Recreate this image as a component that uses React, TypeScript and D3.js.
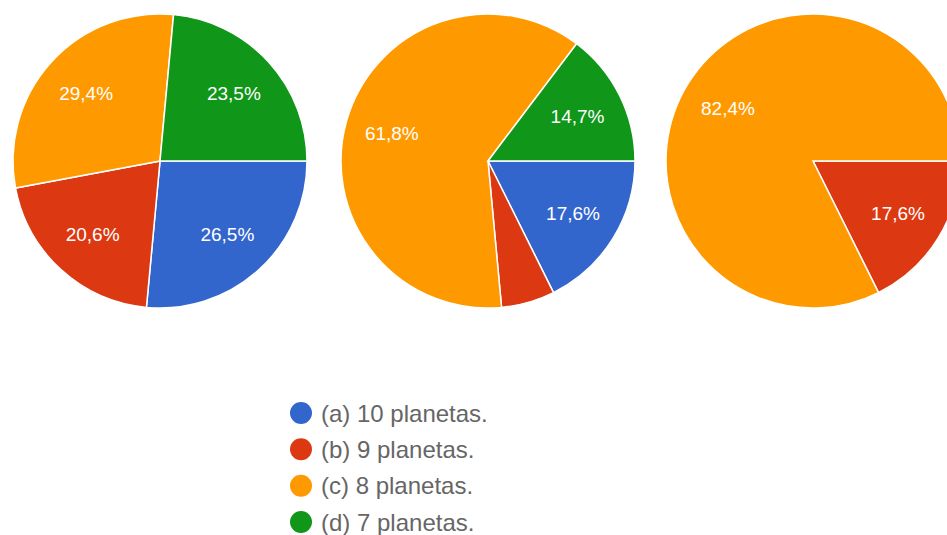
import React from "react";
import * as d3 from "d3";

const categories = ["(a) 10 planetas.", "(b) 9 planetas.", "(c) 8 planetas.", "(d) 7 planetas."];
const colors = ["#3366cc", "#dc3912", "#ff9900", "#109618"];
const pieA = [9, 7, 10, 8];
const pieB = [6, 2, 21, 5];
const pieC = [0, 6, 28, 0];
const pies = [pieA, pieB, pieC];
const pieCentersX = [160, 488, 813];

const W = 947;
const H = 535;
const CY = 161;
const R = 147;
const LABEL_R = 100;

function fmt(p: number) {
  return (p * 100).toFixed(1).replace(".", ",") + "%";
}

export default function App() {
  const pieGen = d3
    .pie<number>()
    .sort(null)
    .value((d) => d)
    .startAngle(Math.PI / 2)
    .endAngle(Math.PI / 2 + 2 * Math.PI);
  const arc = d3.arc<d3.PieArcDatum<number>>().innerRadius(0).outerRadius(R);
  const labelArc = d3.arc<d3.PieArcDatum<number>>().innerRadius(LABEL_R).outerRadius(LABEL_R);

  const legendY = d3.scalePoint<number>().domain([0, 1, 2, 3]).range([413, 522]);

  return (
    <svg
      width={W}
      height={H}
      style={{ position: "absolute", left: 0, top: 0, background: "#fff" }}
      fontFamily="Arial, 'Liberation Sans', sans-serif"
    >
      {pies.map((vals, pi) => {
        const total = d3.sum(vals);
        const arcs = pieGen(vals);
        return (
          <g key={pi} transform={`translate(${pieCentersX[pi]},${CY})`}>
            {arcs.map((a, i) =>
              a.value > 0 ? (
                <path key={i} d={arc(a) || ""} fill={colors[i]} stroke="#fff" strokeWidth={1.5} />
              ) : null
            )}
            {arcs.map((a, i) => {
              const p = a.value / total;
              if (p < 0.08) return null;
              const [x, y] = labelArc.centroid(a);
              return (
                <text
                  key={"t" + i}
                  x={x}
                  y={y}
                  textAnchor="middle"
                  dominantBaseline="central"
                  fill="#fff"
                  fontSize={19}
                >
                  {fmt(p)}
                </text>
              );
            })}
          </g>
        );
      })}
      {categories.map((c, i) => (
        <g key={c} transform={`translate(301,${legendY(i)})`}>
          <circle r={11} fill={colors[i]} />
          <text x={20} y={0} dominantBaseline="central" fontSize={24} fill="#666666">
            {c}
          </text>
        </g>
      ))}
    </svg>
  );
}
